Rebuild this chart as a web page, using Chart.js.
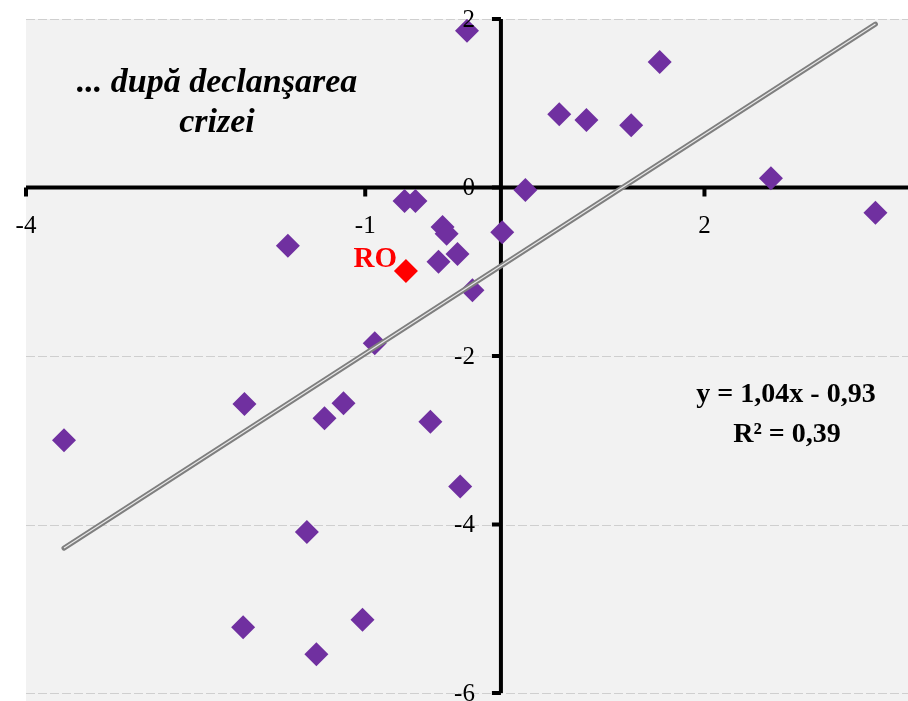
<!DOCTYPE html>
<html>
<head>
<meta charset="utf-8">
<script src="https://cdn.jsdelivr.net/npm/chart.js@4.4.1/dist/chart.umd.min.js"></script>
<style>
  html, body { margin: 0; padding: 0; background: #ffffff; overflow: hidden; }
  canvas { display: block; }
</style>
</head>
<body>
<canvas id="chart" width="908" height="701"></canvas>
<script>
// countries, after the crisis started (x, y)
const pointsX = [-3.22, -1.89, -1.90, -1.57, -1.43, -1.36, -1.30, -1.16, -1.02, -0.93,
                 -0.71, -0.63, -0.43, -0.40, -0.46, -0.32, -0.21, -0.52, -0.30, -0.25,
                 0.01, 0.18, 0.43, 0.63, 0.96, 1.17, 1.99, 2.76]
const pointsY = [-3.00, -2.57, -5.22, -0.69, -4.09, -5.54, -2.74, -2.56, -5.13, -1.85,
                 -0.16, -0.16, -0.47, -0.55, -0.88, -0.79, -1.22, -2.78, -3.55, 1.86,
                 -0.53, -0.03, 0.87, 0.80, 0.74, 1.49, 0.11, -0.30]

// Romania
const roX = [-0.70]
const roY = [-0.99]

// linear trend line ends
const trendX = [-3.22, 2.76]
const trendY = [-4.28, 1.94]

// axes
const xTicks = [-3.5, -1, 1.5]
const xTickLabels = ['-4', '-1', '2']
const yTicks = [2, 0, -2, -4, -6]
const yTickLabels = ['2', '0', '-2', '-4', '-6']

const toPoints = (xs, ys) => xs.map((v, i) => ({ x: v, y: ys[i] }))

const SERIF = '"Liberation Serif", "DejaVu Serif", serif'

const axesPlugin = {
  id: 'crossAxes',
  beforeDatasetsDraw(chart) {
    const { ctx, chartArea: a, scales: { x, y } } = chart
    const line = (x1, y1, x2, y2) => {
      ctx.beginPath()
      ctx.moveTo(x1, y1)
      ctx.lineTo(x2, y2)
      ctx.stroke()
    }
    ctx.save()
    ctx.fillStyle = '#f2f2f2'
    ctx.fillRect(a.left, a.top, a.right - a.left, chart.height - a.top)

    // dashed horizontal grid
    ctx.strokeStyle = '#cfcfcf'
    ctx.lineWidth = 1
    ctx.setLineDash([9, 3])
    yTicks.forEach(v => {
      if (v === 0) return
      const py = Math.round(y.getPixelForValue(v)) + 0.5
      line(a.left, py, a.right, py)
    })
    ctx.setLineDash([])

    // axes crossing at (0, 0)
    const x0 = x.getPixelForValue(0)
    const y0 = y.getPixelForValue(0)
    ctx.strokeStyle = '#000000'
    ctx.lineWidth = 4
    line(a.left, y0, a.right, y0)
    line(x0, a.top, x0, a.bottom)
    xTicks.forEach(v => {
      const px = x.getPixelForValue(v)
      line(px, y0, px, y0 + 9)
    })
    yTicks.forEach(v => {
      const py = y.getPixelForValue(v)
      line(x0 - 9, py, x0, py)
    })
    ctx.restore()
  },
  afterDraw(chart) {
    const { ctx, scales: { x, y } } = chart
    const x0 = x.getPixelForValue(0)
    const y0 = y.getPixelForValue(0)
    ctx.save()
    ctx.fillStyle = '#000000'
    ctx.font = '25px ' + SERIF
    ctx.textBaseline = 'middle'
    ctx.textAlign = 'center'
    xTicks.forEach((v, i) => {
      ctx.fillText(xTickLabels[i], x.getPixelForValue(v), y0 + 39)
    })
    ctx.textAlign = 'right'
    yTicks.forEach((v, i) => {
      ctx.fillText(yTickLabels[i], x0 - 26, y.getPixelForValue(v) + 1)
    })

    // RO label next to its point
    ctx.fillStyle = '#ff0000'
    ctx.font = 'bold 29px ' + SERIF
    ctx.textAlign = 'right'
    ctx.textBaseline = 'alphabetic'
    ctx.fillText('RO', x.getPixelForValue(roX[0]) - 9, y.getPixelForValue(roY[0]) - 4)

    // title text
    ctx.fillStyle = '#000000'
    ctx.font = 'italic bold 34px ' + SERIF
    ctx.textAlign = 'center'
    ctx.fillText('... după declanşarea', 217, 92)
    ctx.fillText('crizei', 217, 132)

    // regression equation
    ctx.font = 'bold 28px ' + SERIF
    ctx.fillText('y = 1,04x - 0,93', 786, 402)
    ctx.fillText('R² = 0,39', 787, 442)
    ctx.restore()
  }
}

new Chart(document.getElementById('chart'), {
  type: 'scatter',
  data: {
    datasets: [
      {
        label: 'trend',
        data: toPoints(trendX, trendY),
        showLine: true,
        borderColor: '#7f7f7f',
        borderWidth: 5,
        borderCapStyle: 'round',
        pointRadius: 0,
        order: 1
      },
      {
        label: 'trend highlight',
        data: toPoints(trendX, trendY),
        showLine: true,
        borderColor: '#e8e8e8',
        borderWidth: 1.2,
        pointRadius: 0,
        order: 0
      },
      {
        label: 'RO',
        data: toPoints(roX, roY),
        pointStyle: 'rectRot',
        pointRadius: 12,
        backgroundColor: '#ff0000',
        borderColor: '#ff0000',
        borderWidth: 0,
        order: 2
      },
      {
        label: 'countries',
        data: toPoints(pointsX, pointsY),
        pointStyle: 'rectRot',
        pointRadius: 12,
        backgroundColor: '#7030a0',
        borderColor: '#7030a0',
        borderWidth: 0,
        order: 3
      }
    ]
  },
  options: {
    responsive: false,
    animation: false,
    layout: { autoPadding: false, padding: { left: 26, top: 19, right: 0, bottom: 8 } },
    plugins: {
      legend: { display: false },
      tooltip: { enabled: false }
    },
    scales: {
      x: { type: 'linear', min: -3.5, max: 3.0, display: false },
      y: { type: 'linear', min: -6, max: 2, display: false }
    }
  },
  plugins: [axesPlugin]
})
</script>
</body>
</html>
